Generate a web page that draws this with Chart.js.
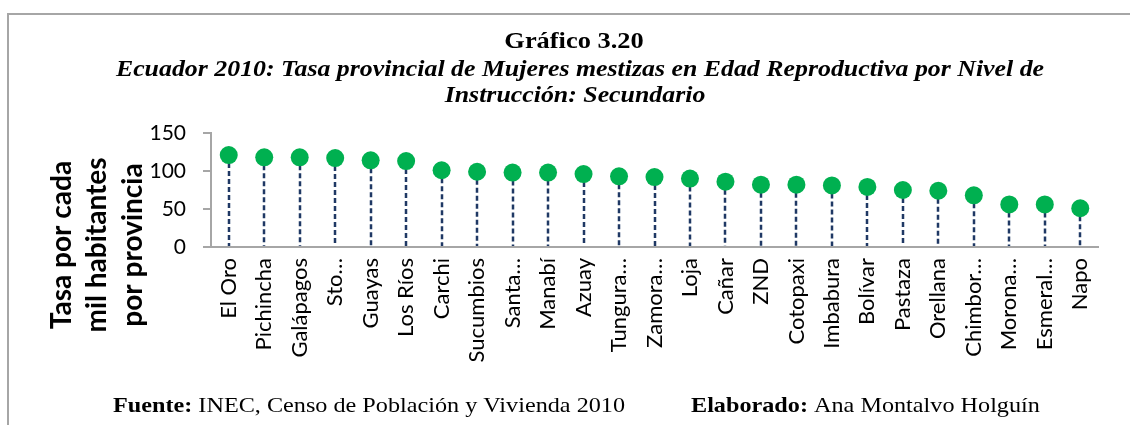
<!DOCTYPE html>
<html>
<head>
<meta charset="utf-8">
<script src="https://cdn.jsdelivr.net/npm/chart.js@4"></script>
<style>
  html, body { margin: 0; padding: 0; background: #ffffff; }
  #wrap { width: 1130px; height: 425px; position: relative; }
</style>
</head>
<body>
<div id="wrap"><canvas id="tasaChart" width="1130" height="425"></canvas></div>
<script>
// -------- DATOS: tasa por cada mil habitantes, nivel secundario ----------
const provincias = ["El Oro", "Pichincha", "Galápagos", "Sto…", "Guayas", "Los Ríos",
    "Carchi", "Sucumbios", "Santa…", "Manabí", "Azuay", "Tungura…", "Zamora…", "Loja",
    "Cañar", "ZND", "Cotopaxi", "Imbabura", "Bolívar", "Pastaza", "Orellana",
    "Chimbor…", "Morona…", "Esmeral…", "Napo"];
const tasas = [121, 118, 118, 117, 114, 113, 101, 99, 98, 98, 96, 93, 92, 90, 86,
    82, 82, 81, 79, 75, 74, 68, 56, 56, 51];
const yTicks = [0, 50, 100, 150];

const titulo = "Gráfico 3.20";
const subtitulo = ["Ecuador 2010: Tasa provincial de Mujeres mestizas en Edad Reproductiva por Nivel de",
    "Instrucción: Secundario"];
const ejeY = ["Tasa por cada", "mil habitantes", "por provincia"];

const verde = "#00B050";
const azulOscuro = "#1F3864";
const gris = "#A6A6A6";
const fontSerif = "'Liberation Serif', 'Times New Roman', serif";
const fontSans = "Lato, 'Open Sans', sans-serif";

// texto serif algo ensanchado, centrado o alineado a la izquierda
function textoAncho(ctx, txt, x, y, ancho) {
    ctx.save();
    ctx.translate(x, y);
    ctx.scale(ancho, 1);
    ctx.fillText(txt, 0, 0);
    ctx.restore();
    return ctx.measureText(txt).width * ancho;
}

// ------------ LINEAS PUNTEADAS DESDE CADA PUNTO HASTA CERO -------------
const dropLines = {
    id: 'dropLines',
    beforeDatasetsDraw(chart) {
        const ctx = chart.ctx;
        const meta = chart.getDatasetMeta(0);
        const y0 = chart.scales.y.getPixelForValue(0);
        ctx.save();
        ctx.strokeStyle = azulOscuro;
        ctx.lineWidth = 2.5;
        ctx.setLineDash([5, 3]);
        meta.data.forEach(pt => {
            const x = Math.round(pt.x);
            ctx.beginPath();
            ctx.moveTo(x, pt.y);
            ctx.lineTo(x, y0 - 1);
            ctx.stroke();
        });
        ctx.restore();
    }
};

// ------------ MARCO, TITULOS, EJE Y Y FUENTE ---------------------------
const textos = {
    id: 'textos',
    beforeDraw(chart) {
        const ctx = chart.ctx;
        ctx.save();
        ctx.fillStyle = "#ffffff";
        ctx.fillRect(0, 0, chart.width, chart.height);

        // marco
        ctx.strokeStyle = gris;
        ctx.lineWidth = 2;
        ctx.beginPath();
        ctx.moveTo(8, chart.height);
        ctx.lineTo(8, 14);
        ctx.lineTo(chart.width, 14);
        ctx.stroke();
        ctx.restore();
    },
    afterDraw(chart) {
        const ctx = chart.ctx;
        ctx.save();
        ctx.fillStyle = "#000000";
        ctx.textAlign = "center";
        ctx.textBaseline = "alphabetic";

        ctx.font = "bold 24px " + fontSerif;
        textoAncho(ctx, titulo, 574, 48, 1.1);
        ctx.font = "italic bold 23.5px " + fontSerif;
        textoAncho(ctx, subtitulo[0], 580, 76, 1.1);
        textoAncho(ctx, subtitulo[1], 575, 102, 1.1);

        // titulo del eje Y, rotado
        ctx.font = "bold 28px " + fontSans;
        ctx.textBaseline = "middle";
        [62, 97, 133].forEach((x, i) => {
            ctx.save();
            ctx.translate(x, 245);
            ctx.rotate(-Math.PI / 2);
            ctx.fillText(ejeY[i], 0, 0);
            ctx.restore();
        });

        // fuente
        ctx.textAlign = "left";
        ctx.textBaseline = "alphabetic";
        let x = 113;
        ctx.font = "bold 22px " + fontSerif;
        x += textoAncho(ctx, "Fuente: ", x, 412, 1.1);
        ctx.font = "22px " + fontSerif;
        textoAncho(ctx, "INEC, Censo de Población y Vivienda 2010", x, 412, 1.1);

        x = 691;
        ctx.font = "bold 22px " + fontSerif;
        x += textoAncho(ctx, "Elaborado: ", x, 412, 1.1);
        ctx.font = "22px " + fontSerif;
        textoAncho(ctx, "Ana Montalvo Holguín", x, 412, 1.1);
        ctx.restore();
    }
};

new Chart(document.getElementById("tasaChart"), {
    type: 'line',
    data: {
        labels: provincias,
        datasets: [{
            data: tasas,
            showLine: false,
            pointRadius: 9,
            pointHoverRadius: 9,
            pointBackgroundColor: verde,
            pointBorderWidth: 0,
            borderColor: verde
        }]
    },
    options: {
        responsive: false,
        animation: false,
        events: [],
        layout: { padding: { top: 133, right: 32, bottom: 0, left: 0 } },
        plugins: {
            legend: { display: false },
            tooltip: { enabled: false }
        },
        scales: {
            x: {
                type: 'category',
                offset: true,
                grid: { display: false },
                border: { display: true, color: gris, width: 2 },
                ticks: {
                    autoSkip: false,
                    minRotation: 90,
                    maxRotation: 90,
                    padding: 3,
                    color: "#000000",
                    font: { family: fontSans, size: 22 }
                },
                afterFit: scale => { scale.height = 178; }
            },
            y: {
                min: 0,
                max: 150,
                afterBuildTicks: scale => { scale.ticks = yTicks.map(v => ({ value: v })); },
                grid: {
                    drawOnChartArea: false,
                    drawTicks: true,
                    tickLength: 8,
                    color: gris,
                    lineWidth: 2
                },
                border: { display: true, color: gris, width: 2 },
                ticks: {
                    padding: 17,
                    color: "#000000",
                    font: { family: fontSans, size: 21 }
                },
                afterFit: scale => { scale.width = 211; }
            }
        }
    },
    plugins: [textos, dropLines]
});
</script>
</body>
</html>
